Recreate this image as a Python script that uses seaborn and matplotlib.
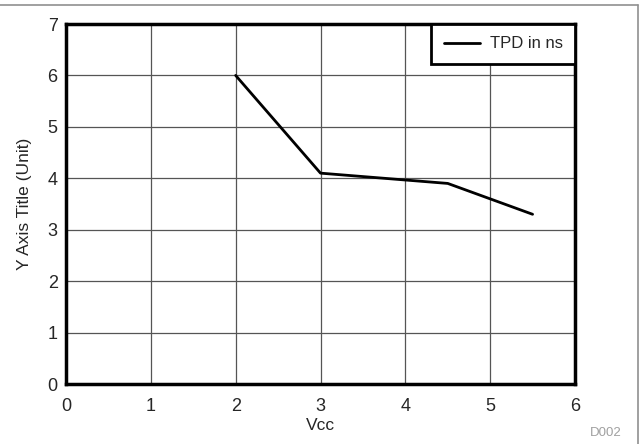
import matplotlib
matplotlib.use("Agg")
import matplotlib.pyplot as plt
import seaborn as sns
import pandas as pd
from matplotlib.lines import Line2D

# values
vcc = [2.0, 3.0, 4.5, 5.5]
tpd_ns = [6.0, 4.1, 3.9, 3.3]
series_name = "TPD in ns"
x_ticks = [0, 1, 2, 3, 4, 5, 6]
y_ticks = [0, 1, 2, 3, 4, 5, 6, 7]

df = pd.DataFrame({"Vcc": vcc, "TPD": tpd_ns})

sns.set_style("white")
plt.rcParams["font.family"] = ["Liberation Sans", "DejaVu Sans"]

fig = plt.figure(figsize=(6.41, 4.44), dpi=100)
ax = fig.add_axes([66 / 641, 1 - 384 / 444, (575 - 66) / 641, (384 - 24) / 444])

sns.lineplot(data=df, x="Vcc", y="TPD", ax=ax, color="black", linewidth=2,
             label=series_name, zorder=3)

ax.set_xlim(0, 6)
ax.set_ylim(0, 7)
ax.set_xticks(x_ticks)
ax.set_yticks(y_ticks)
ax.tick_params(labelsize=13, length=0)
ax.tick_params(axis="x", pad=10)
ax.tick_params(axis="y", pad=6)
ax.grid(True, color="#555555", linewidth=0.9)
for s in ax.spines.values():
    s.set_color("black")
    s.set_linewidth(2.5)
    s.set_visible(True)

ax.set_xlabel("Vcc", fontsize=12.5, labelpad=2)
ax.set_ylabel("Y Axis Title (Unit)", fontsize=12.5, labelpad=11)

leg = ax.legend(loc="upper right", frameon=True, fancybox=False, fontsize=12,
                borderaxespad=0, handlelength=2.2, borderpad=0.75,
                handletextpad=0.55)
leg.get_frame().set_edgecolor("black")
leg.get_frame().set_linewidth(2)
leg.get_frame().set_alpha(1)

fig.text(622 / 641, 1 - 436 / 444, "D002", fontsize=9.5, color="#a0a0a0",
         ha="right", va="baseline")

# thin gray frame around the figure
fig.add_artist(Line2D([0, 638 / 641], [1 - 5 / 444, 1 - 5 / 444],
                      transform=fig.transFigure, color="#909090", linewidth=1.2))
fig.add_artist(Line2D([638 / 641, 638 / 641], [0, 1 - 5 / 444],
                      transform=fig.transFigure, color="#909090", linewidth=1.2))

fig.savefig("out.png", dpi=100)
